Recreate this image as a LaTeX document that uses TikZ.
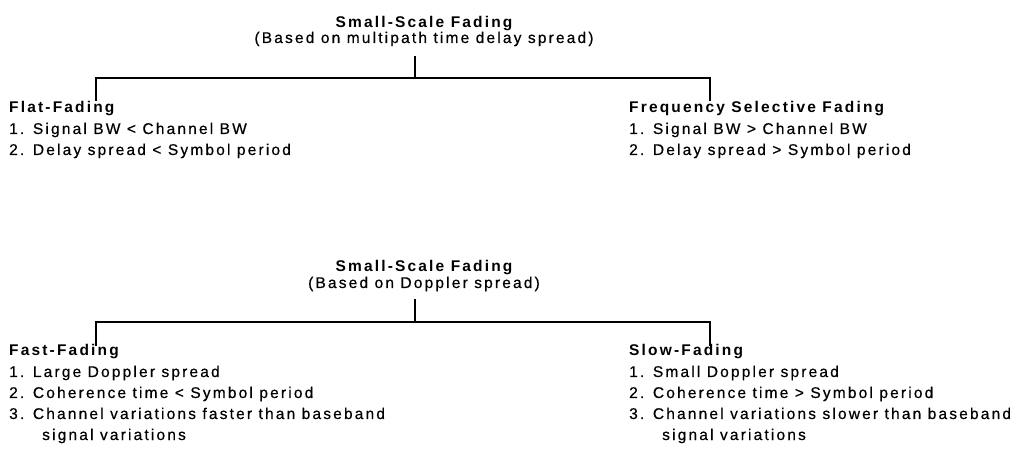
\documentclass[tikz,border=0pt]{standalone}
\usepackage{fontspec}
\setmainfont{Liberation Sans}[LetterSpace=14,UprightFeatures={FakeBold=0.5},BoldFeatures={LetterSpace=14}]
\begin{document}
\begin{tikzpicture}[x=1pt,y=-1pt,
  txt/.style={anchor=base west,inner sep=0pt,font=\fontsize{15.5}{18}\selectfont},
  head/.style={txt,font=\fontsize{15.5}{18}\selectfont\bfseries},
  ttl/.style={anchor=base,inner sep=0pt,font=\fontsize{15.5}{18}\selectfont\bfseries},
  sub/.style={anchor=base,inner sep=0pt,font=\fontsize{15.5}{18}\selectfont},
  wire/.style={line width=1.1pt,line cap=rect}]
\useasboundingbox (0,0) rectangle (1010,454);

% ---------- delay spread classification ----------
\node[ttl] (t1) at (424,28) {Small-Scale Fading};
\node[sub] (s1) at (424,43) {(Based on multipath time delay spread)};

\node[head] (flatH) at (9,113) {Flat-Fading};
\node[txt]  (flat1) at (9,134) {1. Signal BW < Channel BW};
\node[txt]  (flat2) at (9,155) {2. Delay spread < Symbol period};

\node[head] (freqH) at (629,113) {Frequency Selective Fading};
\node[txt]  (freq1) at (629,134) {1. Signal BW > Channel BW};
\node[txt]  (freq2) at (629,155) {2. Delay spread > Symbol period};

\coordinate (j1) at (415,78);
\coordinate (f1) at (96,100);
\coordinate (g1) at (710,100);
\draw[wire] (j1 |- 0,57) -- (j1);
\draw[wire] (f1) |- (j1) -| (g1);

% ---------- Doppler spread classification ----------
\node[ttl] (t2) at (424,272) {Small-Scale Fading};
\node[sub] (s2) at (424,288) {(Based on Doppler spread)};

\node[head] (fastH) at (9,356) {Fast-Fading};
\node[txt]  (fast1) at (9,377) {1. Large Doppler spread};
\node[txt]  (fast2) at (9,398) {2. Coherence time < Symbol period};
\node[txt]  (fast3) at (9,419) {3. Channel variations faster than baseband};
\node[txt]  (fast4) at (42,440) {signal variations};

\node[head] (slowH) at (629,356) {Slow-Fading};
\node[txt]  (slow1) at (629,377) {1. Small Doppler spread};
\node[txt]  (slow2) at (629,398) {2. Coherence time > Symbol period};
\node[txt]  (slow3) at (629,419) {3. Channel variations slower than baseband};
\node[txt]  (slow4) at (662,440) {signal variations};

\coordinate (j2) at (415,322);
\coordinate (f2) at (96,345);
\coordinate (g2) at (710,345);
\draw[wire] (j2 |- 0,300) -- (j2);
\draw[wire] (f2) |- (j2) -| (g2);
\end{tikzpicture}
\end{document}
